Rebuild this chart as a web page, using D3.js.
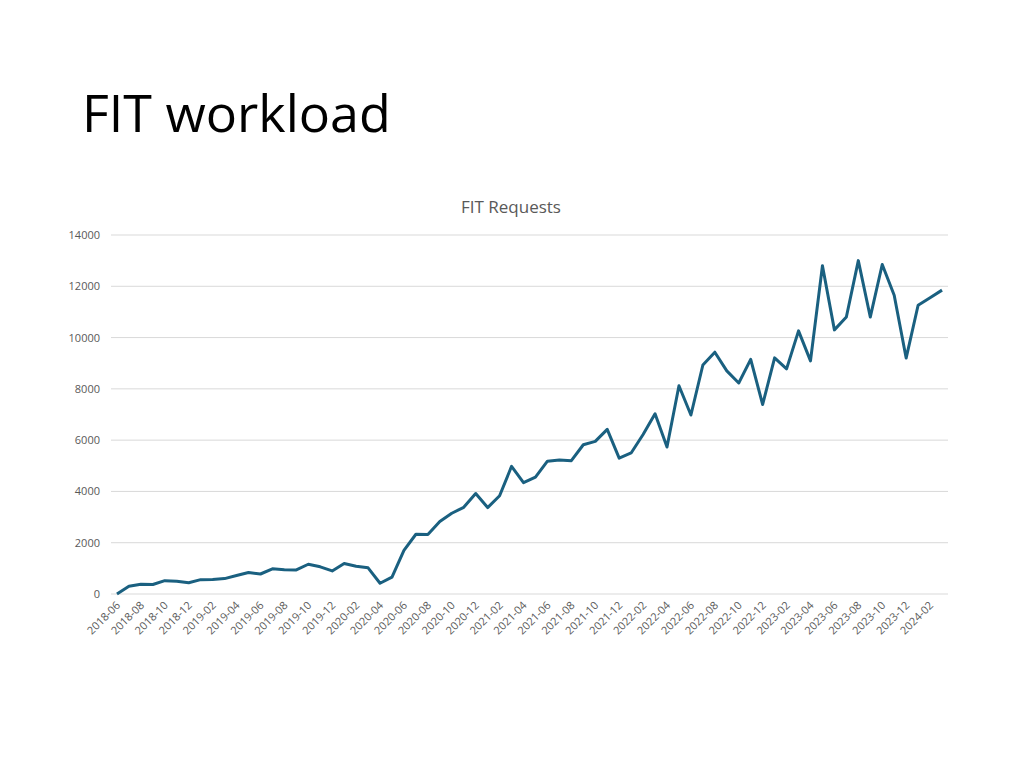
<!DOCTYPE html><html><head><meta charset="utf-8"><script src="https://cdn.jsdelivr.net/npm/d3@7"></script>
<style>body{margin:0;background:#fff;font-family:"Open Sans",sans-serif}</style></head><body><svg id="c" width="1024" height="768"></svg>
<script>
const months=[];
for(let y=2018;y<=2024;y++)for(let m=1;m<=12;m++){if((y===2018&&m<6)||(y===2024&&m>3))continue;months.push(y+"-"+String(m).padStart(2,"0"));}
const values=[0,300,380,370,520,500,440,560,570,600,720,840,780,980,950,940,1160,1060,900,1190,1080,1020,420,660,1700,2330,2320,2830,3150,3380,3920,3370,3830,4980,4340,4560,5180,5230,5200,5820,5950,6420,5300,5500,6220,7030,5730,8120,6980,8930,9430,8700,8230,9150,7390,9210,8780,10260,9090,12800,10300,10800,13000,10800,12850,11650,9200,11260,11550,11850];
const yTicks=[0,2000,4000,6000,8000,10000,12000,14000];
const svg=d3.select("#c");
svg.append("text").attr("x",82).attr("y",132).attr("font-size",52).attr("font-family","Open Sans").attr("fill","#000").text("FIT workload");
svg.append("text").attr("x",511).attr("y",213).attr("text-anchor","middle").attr("font-size",17).attr("fill","#595959").text("FIT Requests");
const x=d3.scaleBand().domain(months).range([111,948]);
const y=d3.scaleLinear().domain([0,14000]).range([594,235]);
svg.append("g").selectAll("line").data(yTicks).join("line").attr("x1",111).attr("x2",948).attr("y1",d=>y(d)).attr("y2",d=>y(d)).attr("stroke","#d9d9d9");
svg.append("g").selectAll("text").data(yTicks).join("text").attr("x",100).attr("y",d=>y(d)+4).attr("text-anchor","end").attr("font-size",11).attr("fill","#595959").text(d=>d);
svg.append("g").selectAll("text").data(months.filter((d,i)=>i%2===0)).join("text")
 .attr("transform",d=>`translate(${x(d)+x.bandwidth()/2+4},${606}) rotate(-45)`).attr("text-anchor","end").attr("font-size",11).attr("fill","#595959").text(d=>d);
svg.append("path").datum(values).attr("fill","none").attr("stroke","#1a6080").attr("stroke-width",3).attr("stroke-linejoin","round")
 .attr("d",d3.line().x((d,i)=>x(months[i])+x.bandwidth()/2).y(d=>y(d)));
</script></body></html>
